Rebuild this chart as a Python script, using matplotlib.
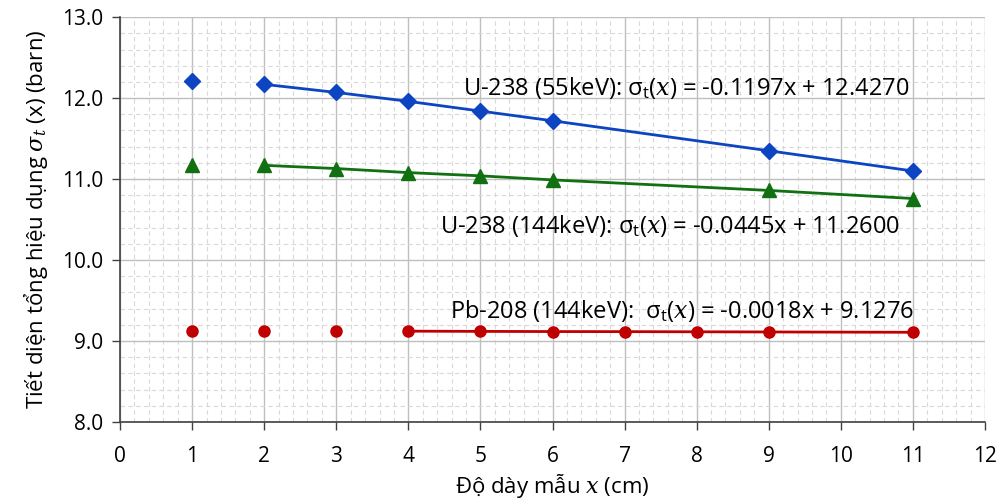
import matplotlib
matplotlib.use("Agg")
import matplotlib.pyplot as plt
from matplotlib.ticker import MultipleLocator

plt.rcParams['font.family'] = ['Open Sans', 'DejaVu Sans']
plt.rcParams['mathtext.fontset'] = 'dejavuserif'

# Data
x_vals = [1, 2, 3, 4, 5, 6, 9, 11]
u55 = [12.21, 12.17, 12.07, 11.96, 11.84, 11.72, 11.35, 11.10]
u144 = [11.17, 11.17, 11.13, 11.08, 11.04, 10.99, 10.86, 10.76]
x_pb = [1, 2, 3, 4, 5, 6, 7, 8, 9, 11]
pb208 = [9.13, 9.125, 9.125, 9.122, 9.119, 9.117, 9.116, 9.114, 9.112, 9.108]

x_ticks = list(range(0, 13))
y_ticks = [8.0, 9.0, 10.0, 11.0, 12.0, 13.0]

label_u55 = r"U-238 (55keV): σ$_{\mathregular{t}}$($x$) = -0.1197x + 12.4270"
label_u144 = r"U-238 (144keV): σ$_{\mathregular{t}}$($x$) = -0.0445x + 11.2600"
label_pb = r"Pb-208 (144keV):  σ$_{\mathregular{t}}$($x$) = -0.0018x + 9.1276"

c_blue = '#0C44C2'
c_green = '#117011'
c_red = '#C00000'

fig = plt.figure(figsize=(10.02, 5.04), dpi=100)
ax = fig.add_axes([0.1198, 0.1627, 0.983 - 0.1198, 0.966 - 0.1627])

# U-238 55 keV
ax.plot(x_vals[1:], u55[1:], '-', color=c_blue, lw=2, zorder=3)
ax.plot(x_vals, u55, 'D', color=c_blue, ms=8, zorder=4)
# U-238 144 keV
ax.plot(x_vals[1:], u144[1:], '-', color=c_green, lw=2, zorder=3)
ax.plot(x_vals, u144, '^', color=c_green, ms=10, zorder=4)
# Pb-208 144 keV
ax.plot(x_pb[3:], pb208[3:], '-', color=c_red, lw=2, zorder=3)
ax.plot(x_pb, pb208, 'o', color=c_red, ms=8, zorder=4)

ax.set_xlim(0, 12)
ax.set_ylim(8.0, 13.0)
ax.set_xticks(x_ticks)
ax.set_xticklabels([str(t) for t in x_ticks])
ax.set_yticks(y_ticks)
ax.set_yticklabels([f"{t:.1f}" for t in y_ticks])
ax.xaxis.set_minor_locator(MultipleLocator(0.2))
ax.yaxis.set_minor_locator(MultipleLocator(0.2))

ax.grid(which='major', color='#BFBFBF', lw=1.0, ls='-', zorder=1)
ax.grid(which='minor', color='#D9D9D9', lw=0.8, ls=(0, (4, 3)), zorder=0)
ax.set_axisbelow(True)

for s in ['top', 'right']:
    ax.spines[s].set_visible(False)
for s in ['left', 'bottom']:
    ax.spines[s].set_color('#404040')
    ax.spines[s].set_linewidth(1.2)

ax.tick_params(axis='both', which='major', labelsize=15, color='#404040',
               length=6, width=1, direction='out')
ax.tick_params(axis='y', which='major', pad=6)
ax.tick_params(axis='x', which='major', pad=11)
ax.tick_params(which='minor', length=0)

ax.set_xlabel(r"Độ dày mẫu $x$ (cm)", fontsize=16, labelpad=4)
ax.set_ylabel(r"Tiết diện tổng hiệu dụng $\sigma_t$ (x) (barn)", fontsize=16, labelpad=9)

ax.text(4.76, 12.12, label_u55, fontsize=17, va='center', ha='left', zorder=5)
ax.text(4.44, 10.42, label_u144, fontsize=17, va='center', ha='left', zorder=5)
ax.text(4.58, 9.37, label_pb, fontsize=17, va='center', ha='left', zorder=5)

fig.savefig("out.png", dpi=100)
